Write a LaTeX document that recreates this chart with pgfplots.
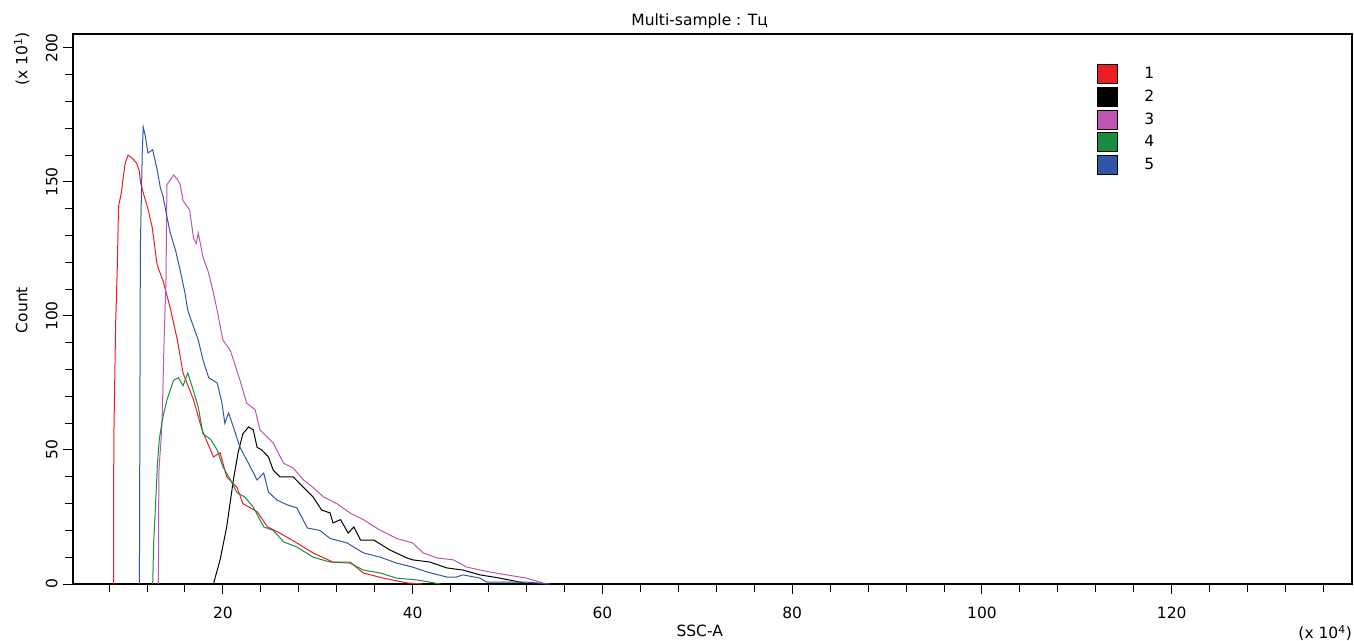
\documentclass[border=0pt]{standalone}
\usepackage{fontspec}
\setmainfont{DejaVu Sans}
\usepackage{pgfplots}
\pgfplotsset{compat=1.18}
\definecolor{c1}{RGB}{237,28,36}
\definecolor{c2}{RGB}{0,0,0}
\definecolor{c3}{RGB}{190,85,175}
\definecolor{c4}{RGB}{25,140,65}
\definecolor{c5}{RGB}{50,85,170}
\begin{document}
\fontsize{15.5}{18}\selectfont
\begin{tikzpicture}
\path[use as bounding box] (0pt,0pt) rectangle (1354pt,640pt);
\begin{axis}[
 at={(73pt,56pt)}, anchor=south west, scale only axis, width=1279pt, height=550pt,
 xmin=4.2, xmax=139, ymin=0, ymax=205.2,
 clip=false,
 xtick={20,40,...,120}, minor xtick={8,12,...,136},
 ytick={0,50,...,200}, minor ytick={10,20,...,200},
 tick pos=left, tick align=outside,
 major tick length=10pt, minor tick length=8pt,
 tick style={black, line width=1pt},
 axis line style={line width=1.3pt},
 /pgf/number format/assume math mode=true,
 yticklabel style={rotate=90, anchor=south, xshift=0pt},
 xticklabel style={yshift=-8pt},
 title={Multi-sample : Tц},
 title style={at={(axis description cs:0.49,1)}, anchor=south, yshift=-6pt},
 xlabel={SSC-A},
 xlabel style={at={(axis description cs:0.49,-0.0745)}, anchor=north, inner sep=0pt},
 ylabel={Count},
 ylabel style={at={(axis description cs:-0.040,0.498)}, anchor=center, inner sep=0pt},
 legend cell align=left,
 legend style={draw=none, fill=none, at={(axis description cs:0.801,0.9449)}, anchor=north west,
   inner sep=0pt, outer sep=0pt, row sep=2.6pt,
   /tikz/every odd column/.append style={column sep=24pt}},
 legend image code/.code={\draw[#1, draw=black, line width=1pt] (0pt,-9.5pt) rectangle (20pt,9.5pt);},
]
\addlegendimage{fill=c1}\addlegendentry{1}
\addlegendimage{fill=c2}\addlegendentry{2}
\addlegendimage{fill=c3}\addlegendentry{3}
\addlegendimage{fill=c4}\addlegendentry{4}
\addlegendimage{fill=c5}\addlegendentry{5}

% 1 red
\addplot[c1, line width=1pt, forget plot] coordinates {
(8.4,0) (8.47,0) (8.5,54) (8.6,76) (8.7,98) (8.87,118) (9.0,141) (9.3,146) (9.5,152) (9.7,157) (10.0,160) (10.4,159) (10.9,157) (11.2,154) (11.3,150) (11.6,146) (12.1,140) (12.55,133) (13.07,119) (13.7,113) (14.45,103) (15.2,91) (15.8,78.7) (16.9,68.7) (17.8,57.5) (19.0,47.4) (19.7,49) (20.4,40) (21.5,36) (22.1,30) (23.6,27) (24.7,21.3) (26.0,19) (27.8,15.3) (29.5,11.6) (31.6,8.2) (33.4,8.2) (34.8,4.1) (36.9,2.2) (39.4,0.4) (41,0)
};
% 2 black
\addplot[c2, line width=1pt, forget plot] coordinates {
(19.0,0) (19.7,9) (20.4,21.3) (20.8,31.3) (21.1,38.8) (21.6,49) (22.1,56) (22.7,58.6) (23.2,57.5) (23.6,51) (24.1,50) (24.8,47.4) (25.3,42.5) (26.0,40) (27.4,40) (28.5,36) (29.5,32.5) (30.4,27.6) (31.3,26.5) (31.6,22.8) (32.4,24) (33.2,19) (33.8,21.3) (34.5,16.4) (35.9,16.4) (37.6,12.7) (39.4,9.7) (40.0,9) (41.8,8.2) (43.6,6) (45.3,5.2) (47.1,3.4) (49.2,2.2) (51.3,0.7) (52.3,0)
};
% 3 magenta
\addplot[c3, line width=1pt, forget plot] coordinates {
(13.2,0) (13.25,42) (13.5,55) (13.6,62) (13.8,91) (14.0,113) (14.1,149) (14.5,151) (14.8,152.6) (15.2,151) (15.5,149) (15.8,143) (16.5,139.5) (16.9,129) (17.2,127) (17.4,131) (17.9,122) (18.5,116) (19.0,108.6) (19.4,102) (20.0,91) (20.8,87) (21.8,76) (22.5,67.5) (23.4,65) (23.9,57.5) (25.3,52.6) (26.4,45) (27.4,43.3) (28.5,38.8) (29.5,36) (30.6,32.5) (32.0,30) (33.4,26.5) (34.8,24) (36.6,20) (38.3,17) (40.0,15.3) (41.1,11.6) (42.6,9.7) (44.3,9) (45.7,6.3) (48.1,4.5) (49.9,3.4) (52.0,2.2) (53.4,0.7) (54.1,0)
};
% 4 green
\addplot[c4, line width=1pt, forget plot] coordinates {
(12.6,0) (12.7,15) (12.9,29.5) (13.1,45) (13.3,54) (13.6,61) (14.1,68.7) (14.8,76) (15.3,77) (15.8,74) (16.3,78.7) (16.9,72) (17.4,66) (17.9,56) (18.7,54) (19.4,50) (20.0,43.7) (20.8,38.8) (21.5,34) (22.3,32.5) (23.2,28.7) (24.3,21.3) (25.3,20) (26.4,15.7) (27.8,13.8) (29.5,10) (31.3,8.2) (33.4,7.8) (34.8,5.2) (36.6,4.1) (38.3,2.2) (40.5,1.5) (41.8,0.7) (42.9,0)
};
% 5 blue
\addplot[c5, line width=1pt, forget plot] coordinates {
(11.2,0) (11.3,126) (11.5,161) (11.6,170.5) (11.8,167.5) (12.1,160.8) (12.6,162) (13.07,154.5) (13.4,148) (13.7,144.4) (14.1,137) (14.45,131) (15.0,124.6) (15.5,117) (16.0,108.6) (16.3,102) (17.4,91) (17.9,83.6) (18.5,77) (19.4,75) (19.9,67.5) (20.2,60) (20.6,63.8) (21.1,58.6) (21.8,51) (22.7,45) (23.6,38.8) (24.3,41.4) (24.8,34.3) (25.7,31.3) (26.8,29.5) (27.8,28.4) (28.9,20.9) (30.2,20) (31.3,17) (33.1,15.3) (34.8,11.6) (36.6,10) (38.3,7.8) (40.0,6.3) (41.5,4.5) (43.6,2.6) (44.6,2.6) (45.3,3.4) (47.1,2.2) (47.8,0.7) (52,0.7) (54.5,0)
};

\node[rotate=90, anchor=center, inner sep=0pt] at (axis description cs:-0.040,0.9545) {(x 10\textsuperscript{1})};
\node[anchor=north east, inner sep=0pt] at (axis description cs:1,-0.0745) {(x 10\textsuperscript{4})};
\end{axis}
\end{tikzpicture}
\end{document}
